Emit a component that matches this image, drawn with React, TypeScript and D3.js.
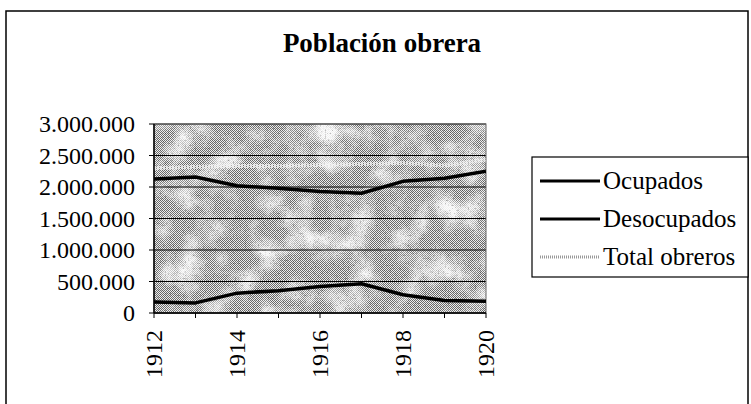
import * as d3 from "d3";

const years = [1912, 1913, 1914, 1915, 1916, 1917, 1918, 1919, 1920];
const ocupados = [2125000, 2160000, 2020000, 1980000, 1930000, 1900000, 2090000, 2140000, 2250000];
const desocupados = [175000, 160000, 315000, 355000, 420000, 465000, 290000, 200000, 185000];
const totalObreros = [2300000, 2320000, 2335000, 2335000, 2350000, 2365000, 2380000, 2340000, 2435000];
const yTicks = [0, 500000, 1000000, 1500000, 2000000, 2500000, 3000000];
const xLabels = [1912, 1914, 1916, 1918, 1920];

const title = "Población obrera";
const seriesNames = ["Ocupados", "Desocupados", "Total obreros"];

const W = 751;
const H = 404;
const plot = { left: 154, right: 486, top: 124, bottom: 313 };
const serif = { fontFamily: "Liberation Serif" };

// formato con puntos de miles
const fmt = (v: number) => d3.format(",")(v).replace(/,/g, ".");

export default function App() {
  const x = d3.scaleLinear().domain([1912, 1920]).range([plot.left, plot.right]);
  const y = d3.scaleLinear().domain([0, 3000000]).range([plot.bottom, plot.top]);

  const line = d3
    .line<number>()
    .x((_, i) => x(years[i]))
    .y((d) => y(d));

  const legendX = 532;
  const legendRows = [181, 219, 257];
  const pw = plot.right - plot.left;
  const ph = plot.bottom - plot.top;

  return (
    <svg width={W} height={H} style={{ position: "absolute", left: 0, top: 0, background: "#fff" }}>
      <defs>
        <pattern id="dither" width={2} height={2} patternUnits="userSpaceOnUse">
          <rect width={2} height={2} fill="#eeeeee" />
          <rect width={1} height={1} fill="#6a6a6a" />
          <rect x={1} y={1} width={1} height={1} fill="#6a6a6a" />
        </pattern>
        <filter id="blot" x="0" y="0" width="1" height="1">
          <feTurbulence type="fractalNoise" baseFrequency="0.035" numOctaves={4} seed={11} />
          <feColorMatrix type="matrix" values="0 0 0 0 1  0 0 0 0 1  0 0 0 0 1  2.4 0 0 0 -1.0" />
        </filter>
        <filter id="speck" x="0" y="0" width="1" height="1">
          <feTurbulence type="fractalNoise" baseFrequency="0.6" numOctaves={1} seed={3} />
          <feColorMatrix type="matrix" values="0 0 0 0 0  0 0 0 0 0  0 0 0 0 0  3 0 0 0 -1.75" />
        </filter>
        <clipPath id="plotClip">
          <rect x={plot.left} y={plot.top} width={pw} height={ph} />
        </clipPath>
      </defs>

      {/* marco exterior */}
      <rect x={6} y={11} width={742} height={410} fill="none" stroke="#000" strokeWidth={1.5} />

      <text x={382} y={52} textAnchor="middle" fontWeight="bold" fontSize={27} style={serif}>
        {title}
      </text>

      {/* fondo del área de trazado */}
      <rect x={plot.left} y={plot.top} width={pw} height={ph} fill="url(#dither)" />
      <rect x={plot.left} y={plot.top} width={pw} height={ph} filter="url(#blot)" opacity={0.9} />
      <rect x={plot.left} y={plot.top} width={pw} height={ph} filter="url(#speck)" opacity={0.45} />

      {/* líneas de división */}
      {yTicks.map((t) => (
        <line key={t} x1={plot.left} x2={plot.right} y1={y(t)} y2={y(t)} stroke="#000" strokeWidth={1} />
      ))}
      <rect x={plot.left} y={plot.top} width={pw} height={ph} fill="none" stroke="#666" strokeWidth={1} />

      <g clipPath="url(#plotClip)">
        <path d={line(totalObreros) ?? ""} fill="none" stroke="#f6f6f6" strokeWidth={4} strokeDasharray="2 1" opacity={0.75} />
        <path d={line(ocupados) ?? ""} fill="none" stroke="#000" strokeWidth={3.5} strokeLinejoin="round" />
        <path d={line(desocupados) ?? ""} fill="none" stroke="#000" strokeWidth={3.5} strokeLinejoin="round" />
      </g>

      {/* eje Y */}
      <line x1={plot.left} x2={plot.left} y1={plot.top} y2={plot.bottom} stroke="#000" strokeWidth={1.5} />
      {yTicks.map((t) => (
        <g key={t}>
          <line x1={plot.left - 5} x2={plot.left} y1={y(t)} y2={y(t)} stroke="#000" strokeWidth={1} />
          <text x={plot.left - 19} y={y(t)} dy="0.35em" textAnchor="end" fontSize={24} style={serif}>
            {fmt(t)}
          </text>
        </g>
      ))}

      {/* eje X */}
      <line x1={plot.left} x2={plot.right} y1={plot.bottom} y2={plot.bottom} stroke="#000" strokeWidth={1.5} />
      {years.map((yr) => (
        <line key={yr} x1={x(yr)} x2={x(yr)} y1={plot.bottom} y2={plot.bottom + 5} stroke="#000" strokeWidth={1} />
      ))}
      {xLabels.map((yr) => (
        <text
          key={yr}
          transform={`translate(${x(yr)},${plot.bottom + 17}) rotate(-90)`}
          dy="0.35em"
          textAnchor="end"
          fontSize={24}
          style={serif}
        >
          {yr}
        </text>
      ))}

      {/* leyenda */}
      <rect x={legendX} y={157} width={216} height={120} fill="#fff" stroke="#000" strokeWidth={1.2} />
      {seriesNames.map((name, i) => (
        <g key={name}>
          {i < 2 ? (
            <line x1={540} x2={600} y1={legendRows[i]} y2={legendRows[i]} stroke="#000" strokeWidth={3} />
          ) : (
            <line
              x1={540}
              x2={600}
              y1={legendRows[i]}
              y2={legendRows[i]}
              stroke="#999"
              strokeWidth={3}
              strokeDasharray="1 1"
            />
          )}
          <text x={603} y={legendRows[i]} dy="0.32em" fontSize={25} style={serif}>
            {name}
          </text>
        </g>
      ))}
    </svg>
  );
}
